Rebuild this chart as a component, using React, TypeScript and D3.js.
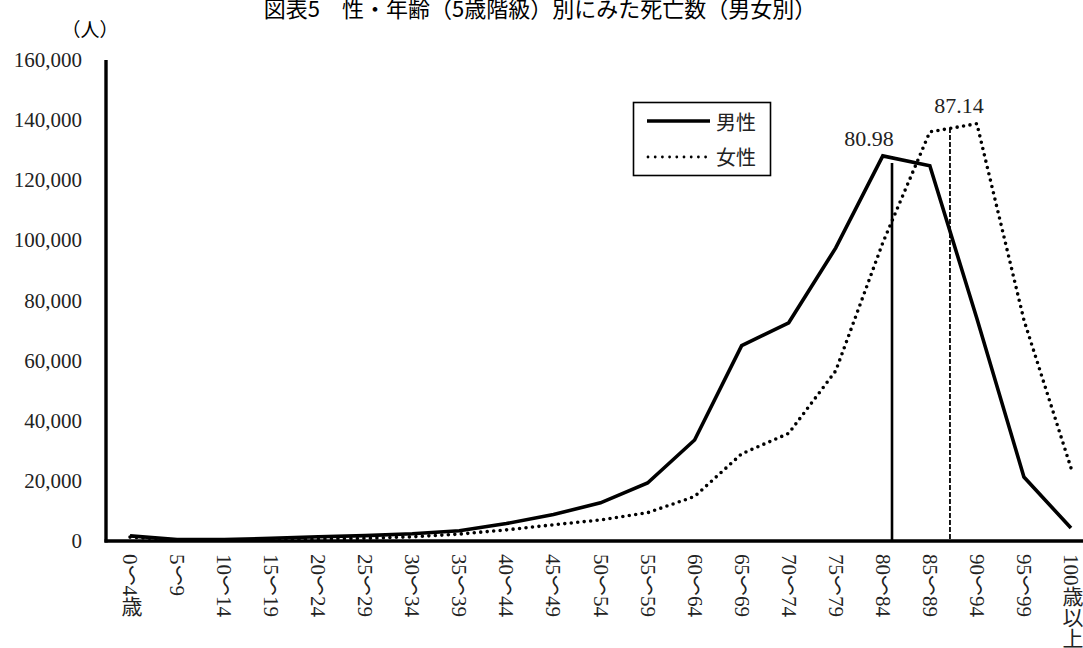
import React from "react";
import * as d3 from "d3";

// 年齢階級
const ageGroups = [
  "0～4歳", "5～9", "10～14", "15～19", "20～24", "25～29", "30～34",
  "35～39", "40～44", "45～49", "50～54", "55～59", "60～64", "65～69",
  "70～74", "75～79", "80～84", "85～89", "90～94", "95～99", "100歳以上",
];

// 死亡数（人）
const maleDeaths = [
  1700, 500, 500, 900, 1400, 1800, 2400, 3400, 5800, 8800, 12700, 19300,
  33600, 65000, 72600, 97500, 128100, 124800, 74000, 21300, 4300,
];
const femaleDeaths = [
  1300, 300, 250, 400, 600, 900, 1400, 2300, 3700, 5400, 7000, 9400,
  14800, 29000, 35800, 56600, 99200, 136100, 138800, 73500, 24300,
];

const yTicks = [0, 20000, 40000, 60000, 80000, 100000, 120000, 140000, 160000];

// 平均寿命（縦線）
const lifeLabels = ["80.98", "87.14"];
const lifeAges = [80.98, 87.14];
const lifeTops = [125700, 137400];

const seriesNames = ["男性", "女性"];

const W = 1083;
const H = 648;
const serif = "'Liberation Serif', 'Noto Sans CJK JP', serif";
const cjk = "'Noto Sans CJK JP', sans-serif";

export default function App() {
  const x = d3
    .scaleBand<string>()
    .domain(ageGroups)
    .range([106.5, 1094.5]);
  const cx = (i: number) => (x(ageGroups[i]) as number) + x.bandwidth() / 2;
  const ageX = d3
    .scaleLinear()
    .domain([0, 100])
    .range([cx(0), cx(ageGroups.length - 1)]);
  const y = d3.scaleLinear().domain([0, 160000]).range([541, 60]);
  const fmt = d3.format(",");

  const line = d3
    .line<number>()
    .x((d, i) => cx(i))
    .y((d) => y(d));

  const x0 = 106;

  return (
    <div style={{ position: "absolute", left: 0, top: 0 }}>
      <svg width={W} height={H} style={{ display: "block", background: "#fff" }}>
        {/* title */}
        <text
          x={540}
          y={17}
          textAnchor="middle"
          fontFamily={cjk}
          fontSize={22}
          fill="#000"
        >
          図表5　性・年齢（5歳階級）別にみた死亡数（男女別）
        </text>

        {/* unit */}
        <text x={90} y={37} textAnchor="middle" fontFamily={cjk} fontSize={19}>
          （人）
        </text>

        {/* y tick labels */}
        {yTicks.map((t) => (
          <text
            key={t}
            x={82}
            y={y(t) + 7}
            textAnchor="end"
            fontFamily={serif}
            fontSize={21}
            fill="#222"
          >
            {fmt(t)}
          </text>
        ))}

        {/* x labels (vertical) */}
        {ageGroups.map((g, i) => (
          <text
            key={g}
            x={cx(i)}
            y={554}
            fontFamily={serif}
            fontSize={21}
            fill="#222"
            style={{ writingMode: "vertical-rl" }}
          >
            {g}
          </text>
        ))}

        {/* life expectancy lines */}
        {lifeAges.map((a, i) => (
          <g key={lifeLabels[i]}>
            <line
              x1={ageX(a)}
              x2={ageX(a)}
              y1={y(lifeTops[i])}
              y2={y(0)}
              stroke="#000"
              strokeWidth={i === 0 ? 2.6 : 1.8}
              strokeDasharray={i === 0 ? undefined : "5 2"}
            />
            <text
              x={ageX(a) + (i === 0 ? -23 : 9)}
              y={y(lifeTops[i]) - (i === 0 ? 17 : 15)}
              textAnchor="middle"
              fontFamily={serif}
              fontSize={22}
              fill="#222"
            >
              {lifeLabels[i]}
            </text>
          </g>
        ))}

        {/* series */}
        <path
          d={line(femaleDeaths) as string}
          fill="none"
          stroke="#000"
          strokeWidth={3.6}
          strokeLinecap="round"
          strokeDasharray="0 6.5"
        />
        <path
          d={line(maleDeaths) as string}
          fill="none"
          stroke="#000"
          strokeWidth={3.6}
        />

        {/* axes */}
        <line x1={x0} x2={x0} y1={y(160000)} y2={y(0) + 1.5} stroke="#000" strokeWidth={3.4} />
        <line x1={x0 - 1.5} x2={W} y1={y(0)} y2={y(0)} stroke="#000" strokeWidth={3.6} />

        {/* legend */}
        <g>
          <rect x={633.5} y={102.5} width={137} height={73} fill="#fff" stroke="#000" strokeWidth={1.6} />
          <line x1={647} x2={710} y1={121} y2={121} stroke="#000" strokeWidth={3.4} />
          <line
            x1={648}
            x2={706}
            y1={157}
            y2={157}
            stroke="#000"
            strokeWidth={2.8}
            strokeLinecap="round"
            strokeDasharray="0 7.2"
          />
          {seriesNames.map((n, i) => (
            <text key={n} x={716} y={130 + i * 35} fontFamily={cjk} fontSize={20} fill="#222">
              {n}
            </text>
          ))}
        </g>
      </svg>
    </div>
  );
}
